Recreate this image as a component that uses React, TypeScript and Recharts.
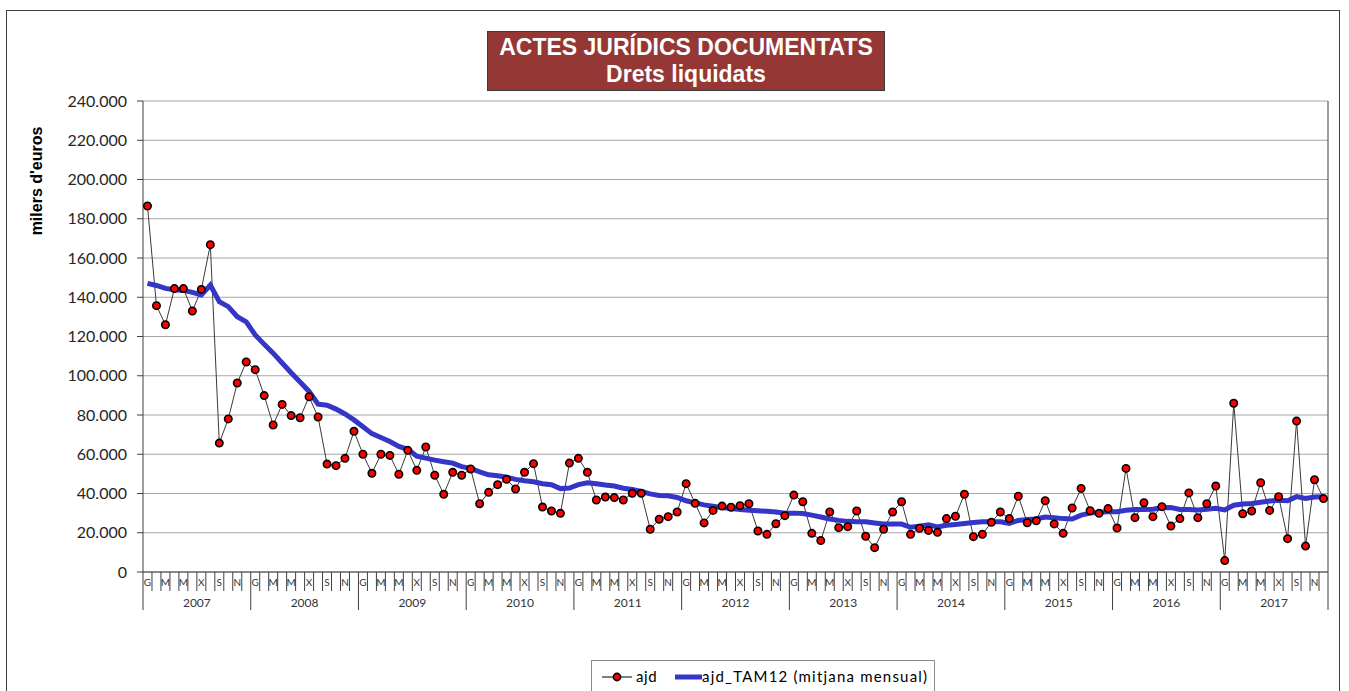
import React from 'react';
import { LineChart, Line, XAxis, YAxis, CartesianGrid } from 'recharts';

// ---------- DATA ----------
const years = ['2007', '2008', '2009', '2010', '2011', '2012', '2013', '2014', '2015', '2016', '2017'];
const monthTickLabels = ['G', '', 'M', '', 'M', '', 'X', '', 'S', '', 'N', ''];

// ajd: monthly values (thousands of euros)
const ajd = [
  186500, 135700, 126000, 144400, 144400, 133000, 144000, 166800, 65700, 78000, 96300, 107000,
  103100, 89900, 74900, 85400, 79700, 78600, 89300, 79000, 55000, 54200, 57900, 71700,
  60000, 50300, 60000, 59400, 49800, 62000, 51800, 63700, 49300, 39600, 50800, 49300,
  52500, 34800, 40600, 44500, 47200, 42300, 50800, 55200, 33100, 31100, 29900, 55500,
  57900, 50800, 36700, 38200, 37900, 36700, 40100, 40100, 21800, 26900, 28200, 30600,
  45000, 35000, 25000, 31400, 33600, 33000, 33800, 34800, 20900, 19200, 24600, 28700,
  39200, 35800, 19700, 16000, 30600, 22600, 23100, 31100, 18200, 12400, 21800, 30600,
  35800, 19200, 22300, 21200, 20200, 27200, 28400, 39600, 18000, 19200, 25300, 30600,
  27200, 38600, 25100, 26100, 36300, 24500, 19700, 32600, 42600, 31200, 29900, 32300,
  22400, 52800, 27700, 35300, 28200, 33300, 23400, 27200, 40300, 27700, 34800, 43800,
  5800, 86000, 29700, 31100, 45500, 31400, 38400, 17000, 76900, 13200, 47000, 37400,
];

// ajd_TAM12: 12-month moving monthly average
const ajdTam12 = [
  147100, 146000, 144500, 143800, 143500, 142500, 141200, 146200, 137700, 135200, 130100, 127500,
  120800, 116000, 111500, 106500, 101500, 96800, 92000, 85500, 85000, 83000, 80500, 77500,
  74000, 70500, 68500, 66500, 64000, 62500, 59000, 58000, 57000, 56200, 55500, 53700,
  52800, 51000, 49500, 49000, 48300, 47200, 46500, 46000, 45000, 44500, 42500, 42800,
  44500, 45500, 45000, 44300, 43800, 42700, 42000, 41000, 39800, 39000, 38800, 38000,
  36300, 35200, 34200, 33500, 32800, 32300, 31900, 31500, 31200, 30900, 30600, 30000,
  30000, 29800, 29000, 28000, 27000, 26300, 25800, 25600, 25600, 25000, 24500, 24500,
  24400, 22800, 23300, 24000, 23000, 23800, 24200, 24700, 25200, 25600, 25600, 25600,
  24800, 26300, 26700, 27000, 28000, 27600, 27200, 27000, 29000, 30000, 30500, 30700,
  30700, 31500, 31900, 31900, 32000, 32700, 32800, 31900, 31800, 31600, 32000, 32500,
  31600, 34000, 34600, 34900, 35500, 36200, 36600, 36300, 38400, 37500, 38200, 38400,
];

const yTicks = [0, 20000, 40000, 60000, 80000, 100000, 120000, 140000, 160000, 180000, 200000, 220000, 240000];

const data = ajd.map((v, i) => ({
  key: `${years[Math.floor(i / 12)]}-${(i % 12) + 1}`,
  month: monthTickLabels[i % 12],
  year: years[Math.floor(i / 12)],
  ajd: v,
  tam: ajdTam12[i],
}));

// ---------- LAYOUT ----------
const W = 1349;
const H = 691;
const MARGIN = { top: 101, right: 20, bottom: 79, left: 0 };
const Y_AXIS_W = 143;
const X_AXIS_H = 40;
const PLOT_W = W - MARGIN.left - MARGIN.right - Y_AXIS_W - 1;
const BAND = PLOT_W / data.length;

const AXIS_COLOR = '#404040';
const TICK_FONT = 'Lato, "Open Sans", "Liberation Sans", sans-serif';

const fmt = (v: number) => {
  if (v === 0) return '0';
  const s = Math.round(v).toString();
  return s.replace(/\B(?=(\d{3})+(?!\d))/g, '.');
};

const MonthYearTick = (props: any) => {
  const { x, y, payload } = props;
  const idx: number = payload && typeof payload.index === 'number' ? payload.index : props.index;
  const bw = BAND;
  const left = x - bw / 2;
  const d = data[idx];
  const isYearStart = idx % 12 === 0;
  const isLast = idx === data.length - 1;
  return (
    <g>
      <line x1={left} x2={left} y1={y} y2={isYearStart ? y + 38 : y + 19} stroke={AXIS_COLOR} strokeWidth={1} />
      {isLast && <line x1={left + bw} x2={left + bw} y1={y} y2={y + 38} stroke={AXIS_COLOR} strokeWidth={1} />}
      {d && d.month && (
        <text x={x} y={y + 14} textAnchor="middle" fontSize={10} fontFamily={TICK_FONT} fill="#333">
          {d.month}
        </text>
      )}
      {isYearStart && d && (
        <text x={left + bw * 6} y={y + 35} textAnchor="middle" fontSize={12} fontFamily={TICK_FONT} fill="#333">
          {d.year}
        </text>
      )}
    </g>
  );
};

const RedDot = (props: any) => {
  const { cx, cy, index } = props;
  if (cx == null || cy == null) return <g key={`d${index}`} />;
  return <circle key={`d${index}`} cx={cx} cy={cy} r={3.7} fill="#ff0000" stroke="#000" strokeWidth={1.6} />;
};

const YLabel = () => (
  <text
    x={38}
    y={181}
    transform="rotate(-90 38 181)"
    textAnchor="middle"
    dominantBaseline="middle"
    fontSize={16}
    fontWeight="bold"
    fontFamily='"Liberation Sans", Arial, sans-serif'
    fill="#000"
  >
    milers d'euros
  </text>
);

export default function App() {
  return (
    <div style={{ position: 'absolute', left: 0, top: 0, width: W, height: H, background: '#fff', overflow: 'hidden' }}>
      {/* outer frame */}
      <div
        style={{
          position: 'absolute',
          left: 6,
          top: 10,
          width: 1334,
          height: 720,
          border: '1px solid #404040',
          boxSizing: 'border-box',
        }}
      />
      <div style={{ position: 'absolute', left: 0, top: 0 }}>
        <LineChart width={W} height={H} data={data} margin={MARGIN}>
          <CartesianGrid yAxisId="left" vertical={false} stroke="#a6a6a6" strokeWidth={1} />
          <XAxis
            dataKey="key"
            type="category"
            interval={0}
            height={X_AXIS_H}
            padding={{ left: BAND / 2, right: BAND / 2 }}
            tickLine={false}
            tickSize={0}
            tickMargin={0}
            axisLine={{ stroke: AXIS_COLOR }}
            tick={<MonthYearTick />}
          />
          <YAxis
            yAxisId="left"
            width={Y_AXIS_W}
            domain={[0, 240000]}
            ticks={yTicks}
            interval={0}
            tickFormatter={fmt}
            axisLine={{ stroke: AXIS_COLOR }}
            tickLine={{ stroke: AXIS_COLOR }}
            tickSize={6}
            tickMargin={10}
            tick={{ fontSize: 16, fontFamily: TICK_FONT, fill: '#262626' }}
            label={<YLabel />}
          />
          <YAxis
            yAxisId="right"
            orientation="right"
            width={1}
            domain={[0, 240000]}
            tick={false}
            tickLine={false}
            axisLine={{ stroke: AXIS_COLOR }}
          />
          <Line
            yAxisId="left"
            type="linear"
            dataKey="ajd"
            name="ajd"
            stroke="#3a3a3a"
            strokeWidth={1}
            dot={<RedDot />}
            activeDot={false}
            isAnimationActive={false}
          />
          <Line
            yAxisId="left"
            type="linear"
            dataKey="tam"
            name="ajd_TAM12 (mitjana mensual)"
            stroke="#3535c8"
            strokeWidth={5}
            dot={false}
            activeDot={false}
            isAnimationActive={false}
          />
        </LineChart>
      </div>
      {/* title box */}
      <div
        style={{
          position: 'absolute',
          left: 487,
          top: 31,
          width: 398,
          height: 60,
          background: '#953735',
          border: '1px solid #3a3a3a',
          boxSizing: 'border-box',
          color: '#fff',
          textAlign: 'center',
          fontFamily: '"Liberation Sans", Arial, sans-serif',
          fontWeight: 'bold',
          fontSize: 23,
          lineHeight: '27px',
          paddingTop: 2,
        }}
      >
        <div>ACTES JURÍDICS DOCUMENTATS</div>
        <div>Drets liquidats</div>
      </div>
      {/* legend */}
      <svg style={{ position: 'absolute', left: 591, top: 660 }} width={344} height={40}>
        <rect x={0.5} y={0.5} width={343} height={45} fill="#fff" stroke="#8c8c8c" strokeWidth={1} />
        <line x1={11} x2={41} y1={17} y2={17} stroke="#000" strokeWidth={1} />
        <circle cx={26} cy={17} r={3.6} fill="#ff0000" stroke="#000" strokeWidth={1.6} />
        <text x={45} y={22} fontSize={15} fontFamily={TICK_FONT} fill="#000" letterSpacing={0.6}>ajd</text>
        <line x1={84} x2={111} y1={17} y2={17} stroke="#3535c8" strokeWidth={5} />
        <text x={111} y={22} fontSize={15} fontFamily={TICK_FONT} fill="#000" letterSpacing={1.2}>ajd_TAM12 (mitjana mensual)</text>
      </svg>
    </div>
  );
}
